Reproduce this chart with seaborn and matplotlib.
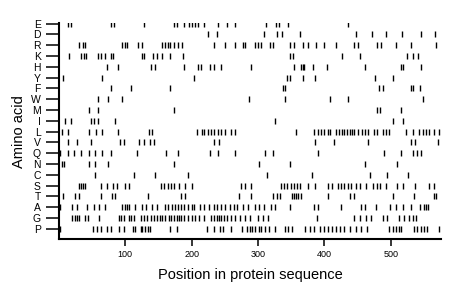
import numpy as np
import pandas as pd
import matplotlib
matplotlib.use("Agg")
import matplotlib.pyplot as plt
import seaborn as sns

# amino acids, top row first
amino_acids = ["E", "D", "R", "K", "H", "Y", "F", "W", "M", "I",
               "L", "V", "Q", "N", "C", "S", "T", "A", "G", "P"]

# positions
E = [13, 18, 78, 83, 128, 174, 178, 188, 196, 200, 205, 210, 218, 240, 253, 265,
     312, 327, 331, 345, 436]
D = [224, 238, 309, 329, 336, 364, 447, 472, 493, 517, 546, 567]
R = [31, 36, 39, 95, 99, 103, 119, 126, 156, 160, 164, 168, 174, 180, 185, 233,
     251, 266, 278, 281, 295, 300, 305, 318, 323, 348, 354, 368, 375, 388, 400,
     418, 445, 451, 479, 485, 508, 530, 568]
K = [16, 34, 38, 41, 59, 64, 69, 78, 81, 125, 129, 142, 148, 156, 168, 187, 348,
     353, 426, 453, 525, 533, 541]
H = [73, 89, 139, 145, 189, 209, 214, 228, 233, 245, 290, 354, 365, 368, 370, 383,
     404, 461, 515, 519, 545]
Y = [6, 65, 204, 344, 348, 368, 386, 476, 503]
F = [78, 109, 168, 337, 340, 483, 488, 530, 534, 544]
W = [59, 74, 95, 286, 341, 408, 435, 549]
M = [45, 59, 173, 479, 484, 516]
I = [9, 18, 49, 53, 59, 84, 325, 504, 518]
L = [4, 14, 46, 56, 65, 89, 136, 140, 208, 215, 219, 224, 229, 234, 240, 245, 251,
     260, 265, 358, 385, 391, 395, 399, 405, 409, 418, 422, 426, 430, 434, 438, 441,
     445, 450, 456, 461, 466, 475, 480, 488, 493, 498, 523, 533, 543, 548, 553, 558,
     565, 573]
V = [13, 28, 48, 92, 98, 120, 128, 137, 144, 234, 242, 386, 414, 466, 531, 537, 572]
Q = [2, 13, 23, 33, 45, 54, 65, 78, 118, 162, 180, 228, 240, 265, 311, 323, 390,
     490, 515, 533, 539, 545]
N = [4, 8, 45, 54, 74, 174, 302, 348, 462, 510]
C = [54, 113, 145, 195, 313, 381, 469, 495, 526]
S = [30, 33, 36, 40, 63, 73, 81, 88, 100, 106, 154, 159, 165, 169, 173, 181, 190,
     200, 274, 281, 290, 335, 339, 344, 350, 354, 359, 363, 375, 386, 405, 411, 421,
     425, 430, 435, 440, 448, 454, 463, 473, 479, 484, 493, 510, 518, 536, 558, 565]
T = [6, 24, 31, 63, 80, 85, 134, 184, 190, 272, 290, 323, 328, 333, 351, 354, 358,
     360, 365, 406, 439, 445, 503, 535, 565, 569]
A = [1, 20, 28, 43, 53, 60, 69, 95, 99, 103, 106, 115, 126, 131, 141, 148, 160, 165,
     171, 175, 179, 184, 189, 195, 200, 204, 213, 219, 226, 233, 239, 245, 250, 258,
     264, 269, 278, 285, 295, 301, 309, 319, 325, 348, 385, 390, 425, 455, 461, 478,
     499, 508, 518, 530, 544, 550, 553, 556]
G = [20, 24, 28, 31, 40, 44, 60, 90, 94, 98, 105, 109, 113, 123, 128, 133, 139, 144,
     148, 153, 156, 160, 166, 169, 173, 178, 181, 184, 189, 195, 201, 205, 211, 218,
     229, 234, 238, 241, 245, 249, 254, 259, 265, 273, 281, 288, 300, 308, 315, 389,
     445, 454, 463, 470, 488, 495, 513, 520, 528, 533, 538]
P = [1, 51, 58, 63, 73, 78, 90, 98, 111, 115, 123, 126, 130, 134, 138, 168, 178, 223,
     233, 243, 248, 259, 276, 283, 288, 291, 295, 301, 305, 311, 316, 325, 340, 345,
     351, 371, 379, 385, 393, 399, 405, 411, 418, 424, 430, 438, 448, 455, 465, 498,
     503, 508, 513, 516, 535, 540, 545, 550, 555, 573]

positions = [E, D, R, K, H, Y, F, W, M, I, L, V, Q, N, C, S, T, A, G, P]

rows = []
for i, (aa, pos) in enumerate(zip(amino_acids, positions)):
    for p in pos:
        rows.append({"aa": aa, "row": len(amino_acids) - 1 - i, "pos": p})
df = pd.DataFrame(rows)

sns.set_style("white")
plt.rcParams["font.family"] = ["Liberation Sans", "DejaVu Sans"]
plt.rcParams["text.color"] = "black"
plt.rcParams["axes.labelcolor"] = "black"
plt.rcParams["xtick.color"] = "black"
plt.rcParams["ytick.color"] = "black"

fig = plt.figure(figsize=(4.6, 2.99), dpi=100)
ax = fig.add_axes([0.128, 0.2, 0.831, 0.723])

sns.scatterplot(data=df, x="pos", y="row", marker="|", s=22, color="black",
                linewidth=1.0, ax=ax, legend=False)

ax.set_xlim(0, 576)
ax.set_ylim(-0.97, 19.05)
ax.set_xticks([100, 200, 300, 400, 500])
ax.set_yticks(range(len(amino_acids)))
ax.set_yticklabels(amino_acids[::-1])
ax.tick_params(axis="y", left=True, direction="out", length=9.5, width=1.1,
               pad=3.5, labelsize=7.5, colors="black")
ax.tick_params(axis="x", bottom=True, direction="out", length=5, width=1.1,
               pad=3, labelsize=6.5, colors="black")
for s in ["top", "right"]:
    ax.spines[s].set_visible(False)
for s in ["left", "bottom"]:
    ax.spines[s].set_color("black")
    ax.spines[s].set_linewidth(1.5)

ax.set_xlabel("Position in protein sequence", fontsize=10.5, labelpad=6)
ax.set_ylabel("Amino acid", fontsize=10.5, labelpad=4)

fig.savefig("out.png", dpi=100, facecolor="white")
